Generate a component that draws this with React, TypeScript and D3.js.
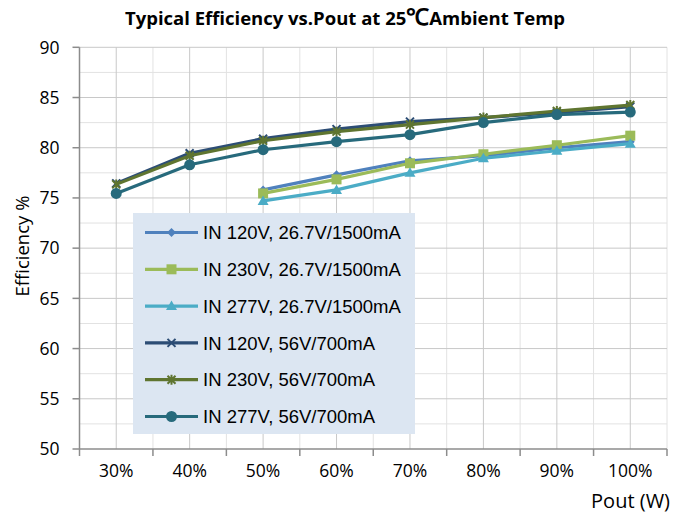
import React from "react";
import * as d3 from "d3";

const categories = ["30%", "40%", "50%", "60%", "70%", "80%", "90%", "100%"];
const seriesNames = [
  "IN 120V, 26.7V/1500mA",
  "IN 230V, 26.7V/1500mA",
  "IN 277V, 26.7V/1500mA",
  "IN 120V, 56V/700mA",
  "IN 230V, 56V/700mA",
  "IN 277V, 56V/700mA",
];
const s1 = [null, null, 75.8, 77.3, 78.7, 79.2, 80.0, 80.6];
const s2 = [null, null, 75.45, 76.85, 78.45, 79.35, 80.25, 81.2];
const s3 = [null, null, 74.7, 75.8, 77.5, 78.95, 79.7, 80.4];
const s4 = [76.45, 79.45, 80.9, 81.85, 82.6, 83.0, 83.5, 84.1];
const s5 = [76.35, 79.2, 80.7, 81.6, 82.3, 83.0, 83.65, 84.25];
const s6 = [75.45, 78.3, 79.8, 80.6, 81.3, 82.5, 83.3, 83.55];
const yTicks = [50, 55, 60, 65, 70, 75, 80, 85, 90];

const seriesValues: (number | null)[][] = [s1, s2, s3, s4, s5, s6];
const colors = ["#4f81bd", "#9bbb59", "#4bacc6", "#2c4d75", "#5f7530", "#276a7c"];
const markers = ["diamond", "square", "triangle", "x", "star", "circle"];

const W = 673;
const H = 514;
const left = 79.5;
const right = 667;
const top = 47.3;
const bottom = 449;

function Marker({ type, x, y, color }: { type: string; x: number; y: number; color: string }) {
  switch (type) {
    case "diamond":
      return <path d={`M${x},${y - 4.5}L${x + 4.5},${y}L${x},${y + 4.5}L${x - 4.5},${y}Z`} fill={color} />;
    case "square":
      return <rect x={x - 5} y={y - 5} width={10} height={10} fill={color} />;
    case "triangle":
      return <path d={`M${x},${y - 5.5}L${x + 5.5},${y + 4}L${x - 5.5},${y + 4}Z`} fill={color} />;
    case "x":
      return (
        <path
          d={`M${x - 4},${y - 4}L${x + 4},${y + 4}M${x - 4},${y + 4}L${x + 4},${y - 4}`}
          stroke={color}
          strokeWidth={2}
        />
      );
    case "star":
      return (
        <path
          d={`M${x - 4},${y - 4}L${x + 4},${y + 4}M${x - 4},${y + 4}L${x + 4},${y - 4}M${x},${y - 5}L${x},${y + 5}`}
          stroke={color}
          strokeWidth={2}
        />
      );
    case "circle":
      return <circle cx={x} cy={y} r={5.5} fill={color} />;
  }
  return null;
}

export default function App() {
  const xBand = d3.scaleBand<string>().domain(categories).range([left, right]).padding(0);
  const y = d3.scaleLinear().domain([50, 90]).range([bottom, top]);
  const cx = (c: string) => (xBand(c) as number) + xBand.bandwidth() / 2;

  const line = d3
    .line<{ c: string; v: number | null }>()
    .defined((d) => d.v != null)
    .x((d) => cx(d.c))
    .y((d) => y(d.v as number));

  const minorY = d3.range(52.5, 90, 5);
  const boundaries = categories.map((c) => xBand(c) as number).concat([right]);

  const legendX = 133;
  const legendY = 213;
  const legendRow = 36.8;

  return (
    <svg width={W} height={H} style={{ position: "absolute", left: 0, top: 0 }}>
      <rect width={W} height={H} fill="#ffffff" />
      <text
        x={345}
        y={25}
        textAnchor="middle"
        fontFamily="Open Sans, sans-serif"
        fontWeight="bold"
        fontSize={18.5}
        fill="#000"
      >
        Typical Efficiency vs.Pout at 25<tspan fontSize={23}>℃</tspan>Ambient Temp
      </text>

      {/* minor gridlines */}
      {minorY.map((v) => (
        <line key={"my" + v} x1={left} x2={right} y1={y(v)} y2={y(v)} stroke="#e2e2e2" strokeWidth={1} />
      ))}
      {boundaries.slice(1).map((b, i) => (
        <line key={"mx" + i} x1={b} x2={b} y1={top} y2={bottom} stroke="#e2e2e2" strokeWidth={1} />
      ))}
      {/* major gridlines */}
      {yTicks.slice(1).map((v) => (
        <line key={"gy" + v} x1={left} x2={right} y1={y(v)} y2={y(v)} stroke="#c8c8c8" strokeWidth={1} />
      ))}
      {categories.map((c) => (
        <line key={"gx" + c} x1={cx(c)} x2={cx(c)} y1={top} y2={bottom} stroke="#c8c8c8" strokeWidth={1} />
      ))}

      {/* axes */}
      <line x1={left} x2={left} y1={top} y2={bottom} stroke="#8c8c8c" strokeWidth={1.5} />
      <line x1={left} x2={right} y1={bottom} y2={bottom} stroke="#8c8c8c" strokeWidth={1.5} />
      {yTicks.map((v) => (
        <g key={"yt" + v}>
          <line x1={left - 7} x2={left} y1={y(v)} y2={y(v)} stroke="#8c8c8c" strokeWidth={1.5} />
          <text
            x={59.5}
            y={y(v)}
            dy="0.36em"
            textAnchor="end"
            fontFamily="Open Sans, sans-serif"
            fontSize={17.5}
            fill="#000"
          >
            {v}
          </text>
        </g>
      ))}
      {boundaries.map((b, i) => (
        <line key={"xt" + i} x1={b} x2={b} y1={bottom} y2={bottom + 7} stroke="#8c8c8c" strokeWidth={1.5} />
      ))}
      {categories.map((c) => (
        <text
          key={"xl" + c}
          x={cx(c)}
          y={476.5}
          textAnchor="middle"
          fontFamily="Open Sans, sans-serif"
          fontSize={17.5}
          fill="#000"
        >
          {c}
        </text>
      ))}
      <text
        x={670}
        y={508}
        textAnchor="end"
        fontFamily="Open Sans, sans-serif"
        fontSize={20}
        fill="#000"
      >
        Pout (W)
      </text>
      <text
        transform={`translate(29,246) rotate(-90)`}
        textAnchor="middle"
        fontFamily="Open Sans, sans-serif"
        fontSize={18.5}
        fill="#000"
      >
        Efficiency %
      </text>

      {/* series */}
      {seriesValues.map((vals, si) => {
        const data = vals.map((v, i) => ({ c: categories[i], v }));
        return (
          <g key={"s" + si}>
            <path d={line(data) || ""} fill="none" stroke={colors[si]} strokeWidth={3.2} strokeLinejoin="round" />
            {data
              .filter((d) => d.v != null)
              .map((d) => (
                <Marker key={d.c} type={markers[si]} x={cx(d.c)} y={y(d.v as number)} color={colors[si]} />
              ))}
          </g>
        );
      })}

      {/* legend */}
      <rect x={legendX} y={legendY} width={282} height={221} fill="#dce6f2" />
      {seriesNames.map((n, i) => {
        const ly = legendY + 19.5 + i * legendRow;
        return (
          <g key={"lg" + i}>
            <line x1={145} x2={198} y1={ly} y2={ly} stroke={colors[i]} strokeWidth={3.2} />
            <Marker type={markers[i]} x={171.5} y={ly} color={colors[i]} />
            <text
              x={203}
              y={ly}
              dy="0.36em"
              fontFamily="Liberation Sans, Arial, sans-serif"
              fontSize={18.5}
              fill="#000"
            >
              {n}
            </text>
          </g>
        );
      })}
    </svg>
  );
}
